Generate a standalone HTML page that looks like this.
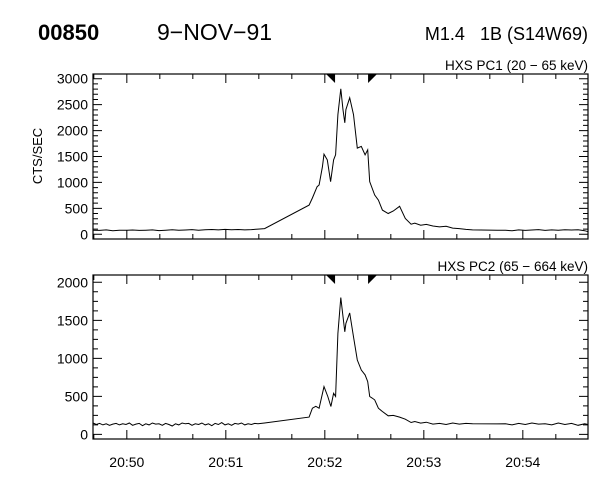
<!DOCTYPE html>
<html><head><meta charset="utf-8"><style>
body{margin:0;background:#fff}
svg{display:block;font-family:"Liberation Sans",sans-serif}
</style></head><body>
<svg id="c" width="600" height="480" viewBox="0 0 600 480">
<text x="38" y="40" font-size="22" font-weight="bold">00850</text>
<text x="157" y="40" font-size="23">9−NOV−91</text>
<text x="588" y="40" font-size="18" text-anchor="end" xml:space="preserve">M1.4   1B (S14W69)</text>
<text x="588" y="70" font-size="13.5" text-anchor="end">HXS PC1 (20 − 65 keV)</text>
<text x="588" y="271" font-size="13.5" text-anchor="end">HXS PC2 (65 − 664 keV)</text>
<text transform="translate(42,156) rotate(-90)" font-size="13" text-anchor="middle">CTS/SEC</text>
</svg>
<script>
const xTickLabels=["20:50","20:51","20:52","20:53","20:54"];
const xTickSec=[20.5,80.5,140.5,200.5,260.5];
const markerSec=[146.7,166.7];
const topTicks=[0,500,1000,1500,2000,2500,3000];
const botTicks=[0,500,1000,1500,2000];
const pc1T=[0,4,8,12,16,20,24,28,32,36,40,44,48,52,56,60,64,68,72,76,80,84,88,92,96,100,104,131,133,135.8,137,139,140,142,144,145.8,147,148.4,150.2,151.5,152.6,153.3,155.6,157.9,160.2,162.6,164.9,166.5,167.7,170.7,173,175.4,178.9,182,185.8,189.3,192.8,195,198.6,202,206,210,214,218,222,226,230,245,250,254,258,262,266,270,274,278,282,286,290,294,298,300];
const pc1V=[80,75,85,70,80,78,82,76,80,84,72,80,88,78,83,90,80,86,92,85,95,88,92,85,90,100,110,563,700,918,950,1300,1545,1435,1015,1435,1532,2308,2806,2400,2150,2405,2631,2308,1662,1694,1532,1629,1015,757,660,466,401,450,540,304,194,215,175,190,160,142,155,120,110,95,85,80,78,70,85,75,82,90,76,85,80,88,82,86,70,50];
const pc2T=[0,2,4,6,8,10,12,14,16,18,20,22,24,26,28,30,32,34,36,38,40,42,44,46,48,50,52,54,56,58,60,62,64,66,68,70,72,74,76,78,80,82,84,86,88,90,92,94,96,98,100,104,131,133,135,137,140,142.3,144.2,145.8,147,148.4,150.2,151.5,152.6,153.3,155.6,157.9,160.2,162.6,164.9,166.5,167.7,169,170.7,173,175.4,178.9,182,185.8,189.3,192.8,195,198.6,202,206,210,214,218,222,226,230,245,250,254,258,262,266,270,274,278,282,286,290,294,298,300];
const pc2V=[150,130,145,125,140,120,135,145,125,140,130,150,120,135,145,115,140,125,150,135,140,120,145,130,110,140,125,150,140,145,120,140,130,150,125,140,115,145,130,155,125,140,120,145,135,150,125,140,130,145,140,150,227,345,370,345,629,498,367,541,500,1328,1799,1550,1349,1459,1598,1284,978,847,782,694,498,480,454,345,301,245,250,227,200,157,170,148,160,135,145,130,150,135,145,140,138,140,125,145,130,150,135,140,125,150,130,145,120,140,130];
const svg=document.getElementById('c');
const NS='http://www.w3.org/2000/svg';
const X0=93,X1=588;
const xs=t=>X0+t*(X1-X0)/300;
function mk(tag,attrs,parent){const e=document.createElementNS(NS,tag);for(const k in attrs)e.setAttribute(k,attrs[k]);(parent||svg).appendChild(e);return e;}
function panel(name,top,bot,y0,yMaxPix,yMax,ticks,minor,T,V,showX){
  const ys=v=>y0-(v/yMax)*(y0-yMaxPix);
  const g=mk('g',{});
  
  
  const r=mk('rect',{x:X0,y:top,width:X1-X0,height:bot-top,fill:'none',stroke:'#000','stroke-width':1.2},g);
  
  
  let d='';
  for(let s=0.5;s<=300;s+=20){const x=xs(s);const L=((s-20.5)%60===0)?9:5;d+=`M${x},${bot}v${-L}M${x},${top}v${L}`;}
  for(let v=0;v<=yMax+0.1;v+=minor){const y=ys(v);const L=(v%500===0)?9:5;d+=`M${X0},${y}h${L}M${X1},${y}h${-L}`;}
  const tk=mk('path',{d:d,stroke:'#000','stroke-width':1,fill:'none'},g);
  
  
  ticks.forEach(v=>{const t=mk('text',{x:88,y:ys(v)+5,'font-size':14,'text-anchor':'end'},g);t.textContent=v;
    
    });
  if(showX){xTickLabels.forEach((l,i)=>{const t=mk('text',{x:xs(xTickSec[i]),y:bot+28,'font-size':14,'text-anchor':'middle'},g);t.textContent=l;
    
    });}
  const m1=mk('polygon',{points:`${xs(markerSec[0])-9},${top} ${xs(markerSec[0])},${top} ${xs(markerSec[0])},${top+9}`,fill:'#000'},g);
  
  
  const m2=mk('polygon',{points:`${xs(markerSec[1])},${top} ${xs(markerSec[1])+9},${top} ${xs(markerSec[1])},${top+9}`,fill:'#000'},g);
  
  
  const pts=T.map((t,i)=>xs(t).toFixed(1)+','+ys(V[i]).toFixed(1)).join(' ');
  const pl=mk('polyline',{points:pts,fill:'none',stroke:'#000','stroke-width':1},g);
  
  
}
panel('pc1',74,239,234.3,78.7,3000,topTicks,100,pc1T,pc1V,false);
panel('pc2',275,439,434.4,282.3,2000,botTicks,125,pc2T,pc2V,true);
</script>
</body></html>
